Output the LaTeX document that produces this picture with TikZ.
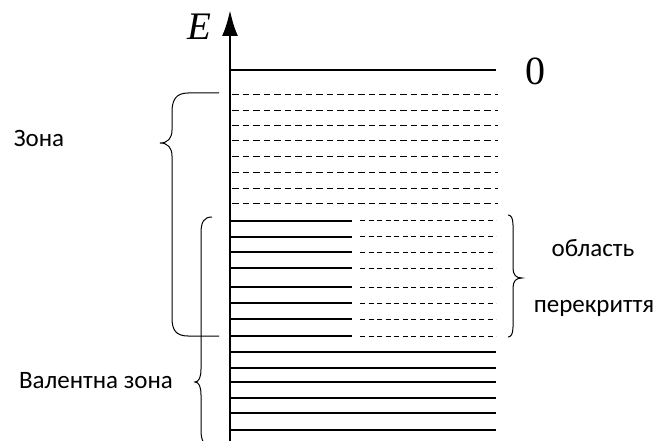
\documentclass[tikz,border=0pt]{standalone}
\usepackage{fontspec}
\setmainfont{Liberation Serif}
\newfontfamily\zonafont{Carlito}
\usetikzlibrary{arrows.meta}
\tikzset{
    livello/.style={line width=1.3pt},
    vuoto/.style={line width=1pt, dash pattern=on 6.5pt off 4pt},
    vuotob/.style={line width=1pt, dash pattern=on 5pt off 3.5pt},
    graffa/.style={line width=1pt},
    scritta/.style={font=\zonafont\fontsize{25}{28}\selectfont, anchor=base},
}
\begin{document}
\begin{tikzpicture}[x=1pt, y=-1pt]
    \useasboundingbox (0,0) rectangle (670,441);
    %asse energia
    \coordinate (base) at (230,441);
    \coordinate (cima) at (230,10);
    \draw[line width=2.6pt, -{Latex[length=26pt,width=16pt]}] (base) -- (cima);
    \node[anchor=base, font=\fontsize{39}{42}\selectfont\itshape] (E) at (199,40) {E};

    %livello zero
    \draw[livello] (230,70) -- (496,70);
    \node[anchor=base, font=\fontsize{40}{42}\selectfont] (zero) at (535,85) {0};

    %zona vuota
    \foreach \y in {95,111,126,141,157,173,189,204} {
        \draw[vuoto] (232,\y) -- (498,\y);
    }

    %area di sovrapposizione
    \foreach \y in {221,237,252,268,287,303,319,336} {
        \draw[livello] (230,\y) -- (352,\y);
        \draw[vuotob] (360,\y) -- (496,\y);
    }

    %banda di valenza
    \foreach \y in {352,368,382,398,413,430} {
        \draw[livello] (230,\y) -- (496,\y);
    }

    %graffe
    \draw[graffa] (219,93) -- (188,93) .. controls (176,93) and (172,100) .. (172,112)
        -- (172,130) .. controls (172,138) and (168,143) .. (160,143)
        .. controls (168,143) and (172,148) .. (172,156)
        -- (172,318) .. controls (172,330) and (176,336) .. (188,336) -- (219,336);
    \begin{scope}
        \clip (0,0) rectangle (670,441);
        \draw[graffa] (212,217) .. controls (204,217) and (201,222) .. (201,233)
            -- (201,369) .. controls (201,377) and (199,382) .. (195,382)
            .. controls (199,382) and (201,387) .. (201,395)
            -- (201,430) .. controls (201,441) and (204,446) .. (212,446);
    \end{scope}
    \draw[graffa] (508,215) .. controls (511,215) and (513,218) .. (513,225)
        -- (513,268) .. controls (513,275) and (516,278) .. (522,278)
        .. controls (516,278) and (513,281) .. (513,288)
        -- (513,327) .. controls (513,334) and (511,337) .. (508,337);

    %scritte
    \node[scritta] (zona) at (39,147) {Зона};
    \node[scritta] (valenza) at (96,388) {Валентна зона};
    \node[scritta] (oblast) at (593,256) {область};
    \node[scritta] (perekr) at (594,312) {перекриття};
\end{tikzpicture}
\end{document}
